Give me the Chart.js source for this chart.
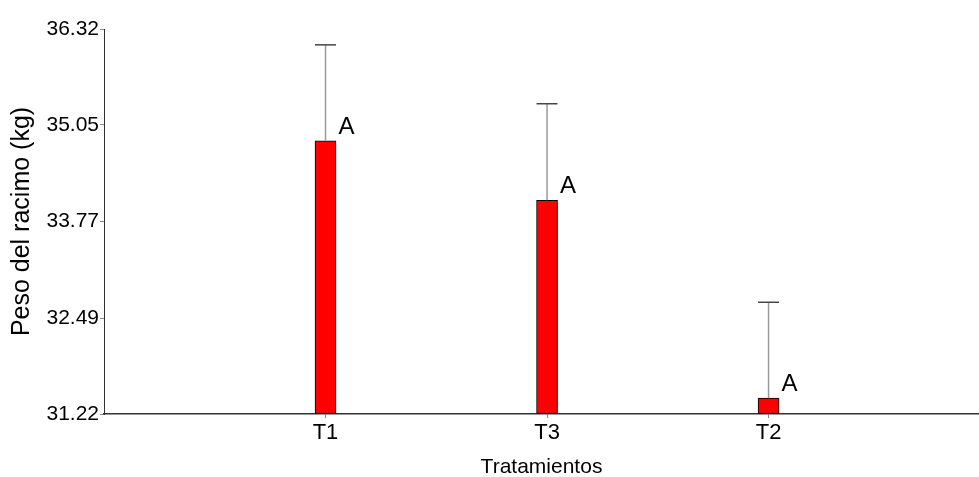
<!DOCTYPE html>
<html><head><meta charset="utf-8">
<script src="https://cdn.jsdelivr.net/npm/chart.js@4.4.0/dist/chart.umd.min.js"></script>
<style>html,body{margin:0;padding:0;background:#fff;overflow:hidden}#wrap{width:979px;height:477px;position:relative}</style>
</head><body><div id="wrap"><canvas id="c"></canvas></div>
<script>
const categories = ['T1', 'T3', 'T2'];
const means = [34.84, 34.05, 31.43];
const upperErr = [36.11, 35.33, 32.70];
const groupLetters = ['A', 'A', 'A'];
const yTickValues = [31.22, 32.49, 33.77, 35.05, 36.32];
const yTickLabels = ['31.22', '32.49', '33.77', '35.05', '36.32'];

const FONT = '"Liberation Sans", Arial, sans-serif';

const annot = {
  id: 'annot',
  afterDatasetsDraw(chart) {
    const ctx = chart.ctx, y = chart.scales.y;
    const meta = chart.getDatasetMeta(0);
    meta.data.forEach((bar, i) => {
      const cx = bar.x, top = bar.y, et = y.getPixelForValue(upperErr[i]);
      ctx.save();
      ctx.strokeStyle = '#9a9a9a'; ctx.lineWidth = 1.5;
      ctx.beginPath(); ctx.moveTo(cx, top); ctx.lineTo(cx, et); ctx.stroke();
      ctx.strokeStyle = '#444'; ctx.lineWidth = 1.5;
      ctx.beginPath(); ctx.moveTo(cx - 10.5, et); ctx.lineTo(cx + 10.5, et); ctx.stroke();
      ctx.fillStyle = '#000'; ctx.font = '24px ' + FONT;
      ctx.textAlign = 'left'; ctx.textBaseline = 'alphabetic';
      ctx.fillText(groupLetters[i], cx + 13, top - 7);
      ctx.restore();
    });
  }
};

new Chart(document.getElementById('c'), {
  type: 'bar',
  data: {
    datasets: [{
      data: means.map((v, i) => ({ x: i + 1, y: v })),
      backgroundColor: '#ff0000',
      borderColor: '#000',
      borderWidth: 1,
      borderSkipped: false,
      barThickness: 21,
      base: yTickValues[0]
    }]
  },
  plugins: [annot],
  options: {
    responsive: true,
    maintainAspectRatio: false,
    animation: false,
    layout: { padding: { top: 29, left: 0, right: 0, bottom: 0 } },
    plugins: { legend: { display: false }, tooltip: { enabled: false } },
    scales: {
      x: {
        type: 'linear',
        offset: false,
        min: 0, max: 3.95,
        afterBuildTicks: s => { s.ticks = categories.map((c, i) => ({ value: i + 1 })); },
        afterFit: s => { s.height = 63; },
        ticks: {
          callback: v => categories[v - 1] || '',
          color: '#000', font: { family: FONT, size: 22 }, padding: 2, maxRotation: 0
        },
        grid: { display: true, offset: false, drawOnChartArea: false, drawTicks: true, tickLength: 4, color: '#888' },
        border: { display: true, color: '#333', width: 1.5 },
        title: { display: true, text: 'Tratamientos', color: '#000', font: { family: FONT, size: 21 }, padding: { top: 0, bottom: -3 } }
      },
      y: {
        min: yTickValues[0], max: yTickValues[yTickValues.length - 1],
        afterBuildTicks: s => { s.ticks = yTickValues.map(v => ({ value: v })); },
        afterFit: s => { s.width = 104; },
        ticks: {
          callback: (v, i) => yTickLabels[i],
          color: '#000', font: { family: FONT, size: 21 }, padding: 1
        },
        grid: { display: true, drawOnChartArea: false, drawTicks: true, tickLength: 4, color: '#888' },
        border: { display: true, color: '#333', width: 1 },
        title: { display: true, text: 'Peso del racimo (kg)', color: '#000', font: { family: FONT, size: 25 }, padding: { top: 7, bottom: 0 } }
      }
    }
  }
});
</script></body></html>
